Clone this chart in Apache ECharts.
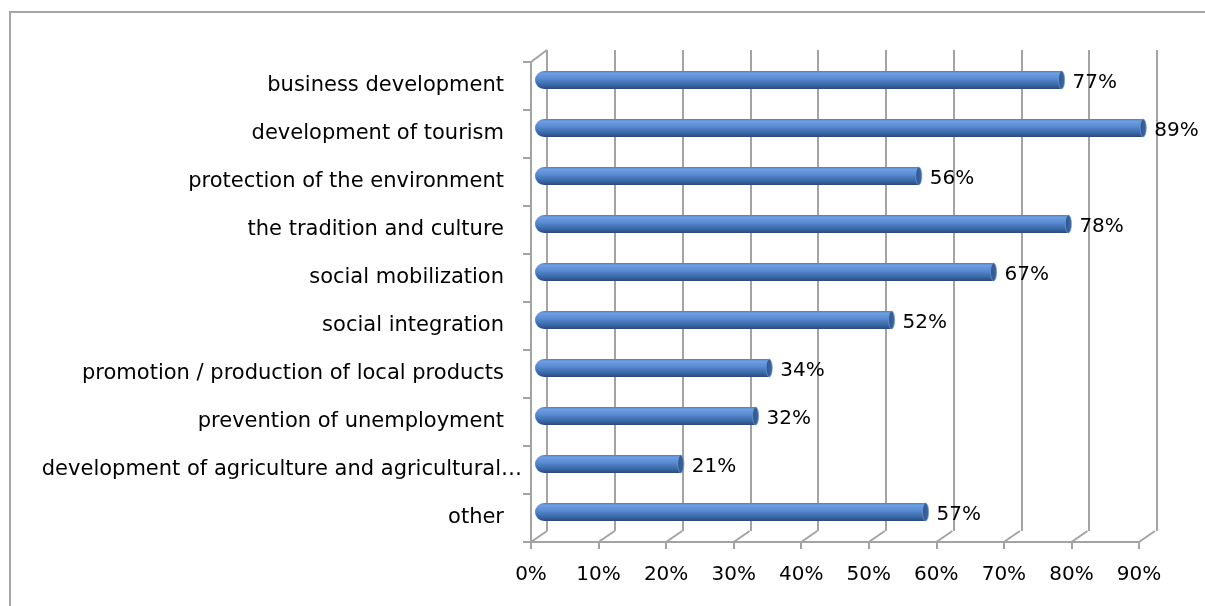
<!DOCTYPE html>
<html>
<head>
<meta charset="utf-8">
<script src="https://cdn.jsdelivr.net/npm/echarts@6/dist/echarts.min.js"></script>
<style>
html,body{margin:0;padding:0;background:#fff;}
#c{width:1205px;height:606px;}
</style>
</head>
<body>
<div id="c"></div>
<script>
const categories = [
  'business development',
  'development of tourism',
  'protection of the environment',
  'the tradition and culture',
  'social mobilization',
  'social integration',
  'promotion / production of local products',
  'prevention of unemployment',
  'development of agriculture and agricultural…',
  'other'
];
const values = [77, 89, 56, 78, 67, 52, 34, 32, 21, 57];
const tickValues = [0, 10, 20, 30, 40, 50, 60, 70, 80, 90];

const FONT = 'DejaVu Sans';
const GRID_COLOR = '#a3a3a3';
const DX = 16, DY = -11;

const chart = echarts.init(document.getElementById('c'), null, {renderer: 'canvas'});

const barGradient = new echarts.graphic.LinearGradient(0, 0, 0, 1, [
  {offset: 0, color: '#4a7cc0'},
  {offset: 0.12, color: '#6f9fdf'},
  {offset: 0.4, color: '#5a8dd3'},
  {offset: 0.75, color: '#3c6aa9'},
  {offset: 1, color: '#284b7c'}
]);
const capGradient = new echarts.graphic.LinearGradient(0, 0, 1, 0, [
  {offset: 0, color: '#2f5489'},
  {offset: 1, color: '#3f6aa6'}
]);

const isTruncated = s => s.endsWith('…');

const option = {
  animation: false,
  backgroundColor: '#fff',
  graphic: [{
    type: 'rect',
    shape: {x: 10, y: 12, width: 1400, height: 800},
    style: {fill: 'none', stroke: '#a6a6a6', lineWidth: 2},
    z: 0
  }],
  grid: [
    {left: 538, top: 56, width: 612, height: 480, outerBoundsMode: 'none'},   // bars
    {left: 531, top: 62, width: 608, height: 480, outerBoundsMode: 'none'},   // front axes
    {left: 547, top: 50, width: 610, height: 481, outerBoundsMode: 'none'}    // back wall
  ],
  xAxis: [
    {gridIndex: 0, type: 'value', min: 0, max: 90, interval: 10, show: false},
    {gridIndex: 1, type: 'value', min: 0, max: 90, interval: 10,
      axisLine: {show: true, lineStyle: {color: GRID_COLOR, width: 2}},
      axisTick: {show: true, length: 7, lineStyle: {color: GRID_COLOR, width: 2}},
      splitLine: {show: false},
      axisLabel: {formatter: '{value}%', color: '#000', fontFamily: FONT, fontSize: 20, margin: 23}
    },
    {gridIndex: 2, type: 'value', min: 0, max: 90, interval: 10,
      axisLine: {show: false}, axisTick: {show: false}, axisLabel: {show: false},
      splitLine: {show: true, lineStyle: {color: GRID_COLOR, width: 2}}
    }
  ],
  yAxis: [
    {gridIndex: 0, type: 'category', data: categories, inverse: true, show: false},
    {gridIndex: 1, type: 'category', data: categories, inverse: true,
      axisLine: {show: true, lineStyle: {color: GRID_COLOR, width: 2}},
      axisTick: {show: true, length: 8, lineStyle: {color: GRID_COLOR, width: 2}},
      splitLine: {show: false},
      axisLabel: {color: '#000', fontFamily: FONT, fontSize: 21, margin: 27, interval: 0,
        formatter: v => isTruncated(v) ? '' : v}
    },
    {gridIndex: 2, type: 'category', data: categories, inverse: true, show: false}
  ],
  series: [
    {
      type: 'custom',
      xAxisIndex: 1, yAxisIndex: 1,
      data: tickValues.map(v => [v, 0]),
      encode: {x: 0, y: 1},
      z: 1,
      silent: true,
      renderItem: function (params, api) {
        const cs = params.coordSys;
        const x = api.coord([api.value(0), 0])[0];
        const yb = cs.y + cs.height;
        const children = [{
          type: 'line',
          shape: {x1: x, y1: yb, x2: x + DX, y2: yb + DY},
          style: {stroke: GRID_COLOR, lineWidth: 2}
        }];
        if (params.dataIndex === 0) {
          children.push({
            type: 'line',
            shape: {x1: cs.x, y1: cs.y, x2: cs.x + DX, y2: cs.y + DY - 1},
            style: {stroke: GRID_COLOR, lineWidth: 2}
          });
        }
        return {type: 'group', children: children};
      }
    },
    {
      // truncated category label, placed as in the reference (closer to the axis)
      type: 'custom',
      xAxisIndex: 1, yAxisIndex: 1,
      data: categories.map((c, i) => [0, i]).filter(d => isTruncated(categories[d[1]])),
      encode: {x: 0, y: 1},
      silent: true,
      renderItem: function (params, api) {
        const i = api.value(1);
        const p = api.coord([0, i]);
        return {
          type: 'text',
          x: p[0] - 9, y: p[1],
          style: {text: categories[i], fill: '#000', font: '21px "' + FONT + '"', align: 'right', verticalAlign: 'middle'}
        };
      }
    },
    {
      type: 'custom',
      xAxisIndex: 0, yAxisIndex: 0,
      data: values.map((v, i) => [v, i]),
      encode: {x: 0, y: 1},
      z: 5,
      renderItem: function (params, api) {
        const v = api.value(0);
        const c = api.value(1);
        const p0 = api.coord([0, c]);
        const p1 = api.coord([v, c]);
        const band = api.size([0, 1])[1];
        const h = band * 0.375;
        return {
          type: 'group',
          children: [
            {
              type: 'rect',
              shape: {x: p0[0] - 3, y: p0[1] - h / 2, width: p1[0] - p0[0] + 3, height: h, r: [h / 2, 0, 0, h / 2]},
              style: {fill: barGradient}
            },
            {
              type: 'circle',
              x: p1[0], y: p1[1], scaleX: 0.34,
              shape: {cx: 0, cy: 0, r: h / 2},
              style: {fill: capGradient, stroke: '#6f9fdf', lineWidth: 1}
            },
            {
              type: 'text',
              x: p1[0] + 11, y: p1[1] + 3,
              style: {text: v + '%', fill: '#000', font: '20px "' + FONT + '"', verticalAlign: 'middle', align: 'left'}
            }
          ]
        };
      }
    }
  ]
};
chart.setOption(option);
</script>
</body>
</html>
